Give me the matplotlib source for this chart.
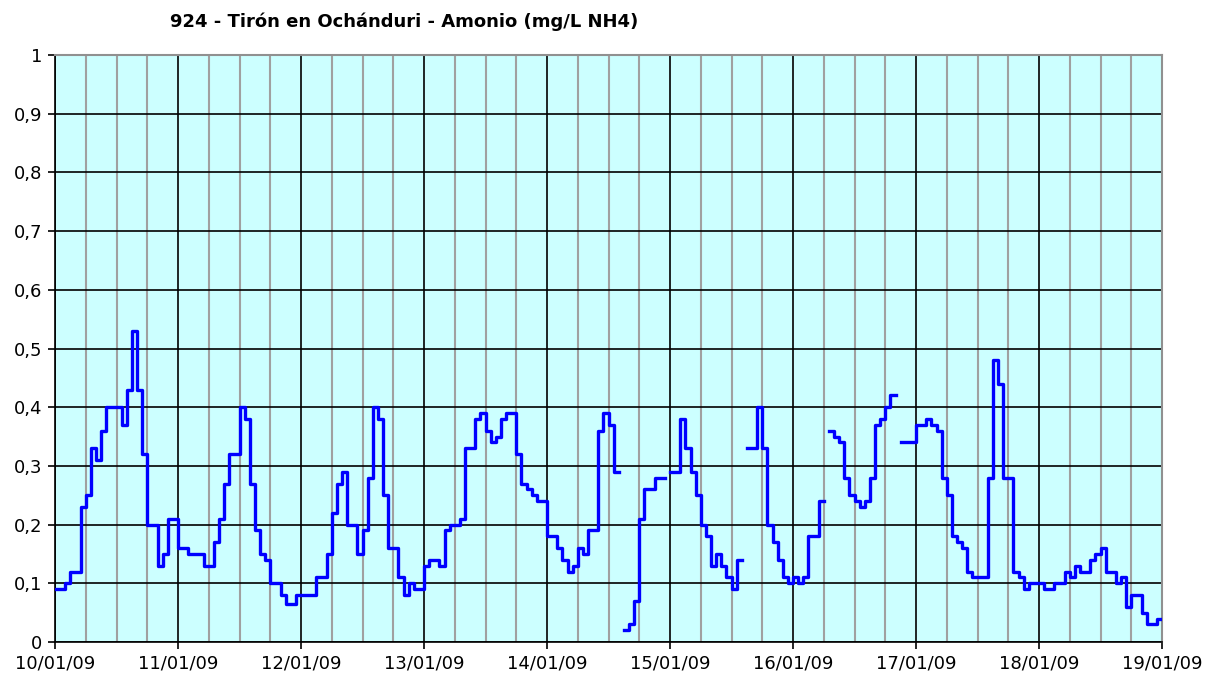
import matplotlib.pyplot as plt
import numpy as np
from matplotlib.ticker import MultipleLocator, FixedLocator

nan = np.nan

# hourly ammonium readings (mg/L NH4), one list per day, nan = no data
d10 = [0.09, 0.09, 0.10, 0.12, 0.12, 0.23, 0.25, 0.33, 0.31, 0.36, 0.40, 0.40,
       0.40, 0.37, 0.43, 0.53, 0.43, 0.32, 0.20, 0.20, 0.13, 0.15, 0.21, 0.21]
d11 = [0.16, 0.16, 0.15, 0.15, 0.15, 0.13, 0.13, 0.17, 0.21, 0.27, 0.32, 0.32,
       0.40, 0.38, 0.27, 0.19, 0.15, 0.14, 0.10, 0.10, 0.08, 0.065, 0.065, 0.08]
d12 = [0.08, 0.08, 0.08, 0.11, 0.11, 0.15, 0.22, 0.27, 0.29, 0.20, 0.20, 0.15,
       0.19, 0.28, 0.40, 0.38, 0.25, 0.16, 0.16, 0.11, 0.08, 0.10, 0.09, 0.09]
d13 = [0.13, 0.14, 0.14, 0.13, 0.19, 0.20, 0.20, 0.21, 0.33, 0.33, 0.38, 0.39,
       0.36, 0.34, 0.35, 0.38, 0.39, 0.39, 0.32, 0.27, 0.26, 0.25, 0.24, 0.24]
d14 = [0.18, 0.18, 0.16, 0.14, 0.12, 0.13, 0.16, 0.15, 0.19, 0.19, 0.36, 0.39,
       0.37, 0.29, nan, 0.02, 0.03, 0.07, 0.21, 0.26, 0.26, 0.28, 0.28, nan]
d15 = [0.29, 0.29, 0.38, 0.33, 0.29, 0.25, 0.20, 0.18, 0.13, 0.15, 0.13, 0.11,
       0.09, 0.14, nan, 0.33, 0.33, 0.40, 0.33, 0.20, 0.17, 0.14, 0.11, 0.10]
d16 = [0.11, 0.10, 0.11, 0.18, 0.18, 0.24, nan, 0.36, 0.35, 0.34, 0.28, 0.25,
       0.24, 0.23, 0.24, 0.28, 0.37, 0.38, 0.40, 0.42, nan, 0.34, 0.34, 0.34]
d17 = [0.37, 0.37, 0.38, 0.37, 0.36, 0.28, 0.25, 0.18, 0.17, 0.16, 0.12, 0.11,
       0.11, 0.11, 0.28, 0.48, 0.44, 0.28, 0.28, 0.12, 0.11, 0.09, 0.10, 0.10]
d18 = [0.10, 0.09, 0.09, 0.10, 0.10, 0.12, 0.11, 0.13, 0.12, 0.12, 0.14, 0.15,
       0.16, 0.12, 0.12, 0.10, 0.11, 0.06, 0.08, 0.08, 0.05, 0.03, 0.03, 0.04, 0.04]

day_labels = ["10/01/09", "11/01/09", "12/01/09", "13/01/09", "14/01/09",
              "15/01/09", "16/01/09", "17/01/09", "18/01/09", "19/01/09"]
y_ticks = [0, 0.1, 0.2, 0.3, 0.4, 0.5, 0.6, 0.7, 0.8, 0.9, 1]
y_labels = ["0", "0,1", "0,2", "0,3", "0,4", "0,5", "0,6", "0,7", "0,8", "0,9", "1"]

values = np.array(d10 + d11 + d12 + d13 + d14 + d15 + d16 + d17 + d18)
t = np.arange(len(values)) / 24.0

fig = plt.figure(figsize=(12.06, 6.75), dpi=100)
ax = fig.add_axes([55 / 1206, 33 / 675, 1107 / 1206, 587 / 675])
ax.set_facecolor("#CCFFFF")

ax.plot(t, values, color="#0000FF", lw=2.4, drawstyle="steps-post", zorder=3)

ax.set_xlim(0, 9)
ax.set_ylim(0, 1)
ax.xaxis.set_major_locator(FixedLocator(range(10)))
ax.xaxis.set_minor_locator(MultipleLocator(0.25))
ax.set_xticklabels(day_labels)
ax.yaxis.set_major_locator(FixedLocator(y_ticks))
ax.set_yticklabels(y_labels)

ax.grid(which="minor", axis="x", color="#A0A0A0", lw=1.5, zorder=1)
ax.grid(which="major", axis="both", color="black", lw=1.2, zorder=2)
ax.set_axisbelow(True)

ax.tick_params(axis="both", which="major", direction="out", length=5, width=1.2,
               labelsize=13, colors="black", pad=4)
ax.tick_params(axis="x", which="minor", length=0)
for s in ["left", "bottom"]:
    ax.spines[s].set_color("black")
    ax.spines[s].set_linewidth(1.2)
for s in ["top", "right"]:
    ax.spines[s].set_color("#909090")
    ax.spines[s].set_linewidth(1.5)

fig.text(170 / 1206, 1 - 22 / 675, "924 - Tirón en Ochánduri - Amonio (mg/L NH4)",
         ha="left", va="center", fontsize=13, fontweight="bold")

fig.savefig("out.png", dpi=100, facecolor="white")
